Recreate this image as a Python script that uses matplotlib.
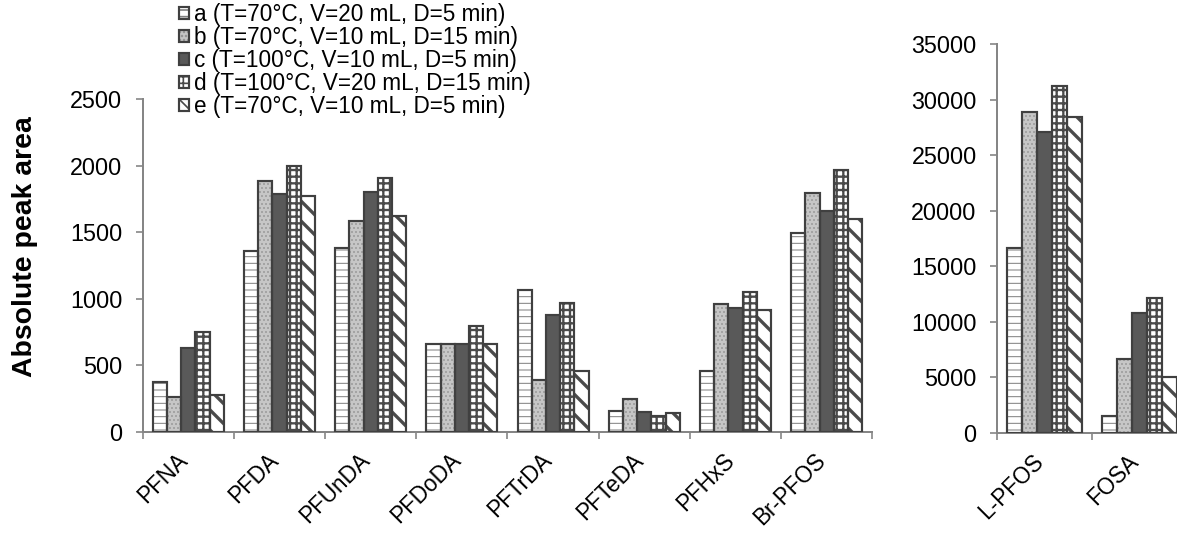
import numpy as np
import matplotlib
matplotlib.use('Agg')
import matplotlib.pyplot as plt

plt.rcParams['font.family'] = ['Liberation Sans', 'DejaVu Sans']
plt.rcParams['font.size'] = 14

series_labels = ['a (T=70°C, V=20 mL, D=5 min)',
                 'b (T=70°C, V=10 mL, D=15 min)',
                 'c (T=100°C, V=10 mL, D=5 min)',
                 'd (T=100°C, V=20 mL, D=15 min)',
                 'e (T=70°C, V=10 mL, D=5 min)']

left_cats = ['PFNA', 'PFDA', 'PFUnDA', 'PFDoDA', 'PFTrDA', 'PFTeDA', 'PFHxS', 'Br-PFOS']
a_left = [375, 1358, 1380, 660, 1070, 160, 460, 1495]
b_left = [265, 1888, 1585, 660, 390, 248, 965, 1795]
c_left = [633, 1790, 1805, 660, 880, 150, 935, 1663]
d_left = [748, 2000, 1905, 795, 970, 120, 1055, 1965]
e_left = [278, 1773, 1620, 660, 460, 145, 915, 1600]

right_cats = ['L-PFOS', 'FOSA']
a_right = [16660, 1490]
b_right = [28905, 6670]
c_right = [27050, 10755]
d_right = [31225, 12185]
e_right = [28390, 5025]

left_ticks = [0, 500, 1000, 1500, 2000, 2500]
right_ticks = [0, 5000, 10000, 15000, 20000, 25000, 30000, 35000]

# fill, hatch, hatch colour, hatch width per series
styles = [
    ('white', '---', '#808080', 0.6),
    ('#c6c6c6', '.....', '#8e8e8e', 0.5),
    ('#595959', '', '#595959', 0.5),
    ('white', '+++', '#4a4a4a', 1.4),
    ('white', '\\\\', '#4a4a4a', 2.0),
]
edge = '#404040'
axis_gray = '#868686'
bar_w = 0.156

W, H = 1177, 533
fig = plt.figure(figsize=(W / 120, H / 120), dpi=120)


def make_axes(x0, x1, y_top, y_bot):
    return fig.add_axes([x0 / W, 1 - y_bot / H, (x1 - x0) / W, (y_bot - y_top) / H])


def draw_groups(ax, cats, series, ticks):
    x = np.arange(len(cats))
    handles = []
    for i, vals in enumerate(series):
        fc, hatch, hc, hlw = styles[i]
        pos = x + (i - 2) * bar_w
        with plt.rc_context({'hatch.linewidth': hlw}):
            fill = ax.bar(pos, vals, bar_w, color=fc, edgecolor=hc, linewidth=0,
                          hatch=hatch, zorder=2)
        outline = ax.bar(pos, vals, bar_w, fill=False, edgecolor=edge,
                         linewidth=1.3, zorder=3)
        handles.append((fill, outline))

    ax.set_xlim(-0.5, len(cats) - 0.5)
    ax.set_ylim(ticks[0], ticks[-1])
    ax.set_yticks(ticks)
    ax.set_yticklabels([str(t) for t in ticks])
    ax.set_xticks(x - 0.05)
    ax.set_xticklabels(cats, rotation=45, ha='right', va='center', rotation_mode='anchor',
                       fontsize=13.5)
    ax.set_xticks(np.arange(len(cats) + 1) - 0.5, minor=True)
    ax.tick_params(axis='x', which='major', length=0, pad=15)
    ax.tick_params(axis='x', which='minor', length=4.2, color=axis_gray, width=1)
    ax.tick_params(axis='y', length=4.2, color=axis_gray, width=1, pad=8)
    for side in ['top', 'right']:
        ax.spines[side].set_visible(False)
    for side in ['left', 'bottom']:
        ax.spines[side].set_color(axis_gray)
        ax.spines[side].set_linewidth(1.2)
    return handles


ax1 = make_axes(142.7, 872.3, 99.3, 432)
handles = draw_groups(ax1, left_cats, [a_left, b_left, c_left, d_left, e_left], left_ticks)

ax2 = make_axes(997, 1187, 44, 433)
draw_groups(ax2, right_cats, [a_right, b_right, c_right, d_right, e_right], right_ticks)

fig.text(25 / W, 1 - 247 / H, 'Absolute peak area', rotation=90, ha='center', va='center',
         fontsize=17, fontweight='bold')

fig.legend(handles, series_labels, loc='upper left', bbox_to_anchor=(179 / W, 1 - 3 / H),
           frameon=False, borderpad=0, borderaxespad=0, handlelength=0.45, handleheight=0.45,
           handletextpad=0.2, labelspacing=0.0, fontsize=13.5)

fig.savefig('out.png', dpi=120)
